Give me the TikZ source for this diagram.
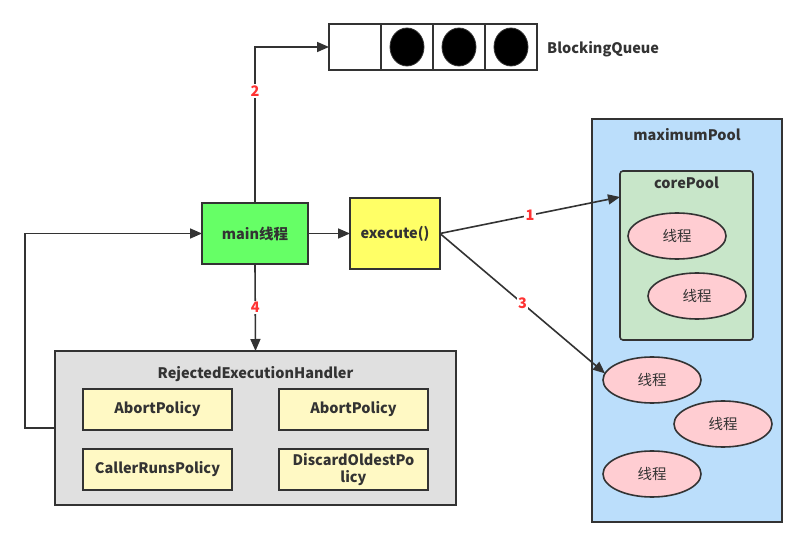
\documentclass[tikz,border=0pt]{standalone}
\usepackage{fontspec}
\setmainfont{Noto Sans CJK SC}
\usetikzlibrary{arrows.meta,shapes.geometric}
\definecolor{linegray}{HTML}{333333}
\definecolor{maingreen}{HTML}{66FF66}
\definecolor{execyellow}{HTML}{FFFF66}
\definecolor{rejgray}{HTML}{E0E0E0}
\definecolor{policyyellow}{HTML}{FFF9C4}
\definecolor{maxblue}{HTML}{BBDEFB}
\definecolor{coregreen}{HTML}{C8E6C9}
\definecolor{threadpink}{HTML}{FFCDD2}
\definecolor{stepred}{HTML}{FF3333}

\begin{document}
\begin{tikzpicture}[x=1pt,y=-1pt,
	box/.style={draw=linegray,line width=1.6pt,inner sep=0,outer sep=0,font=\bfseries\fontsize{14.5}{16}\selectfont,text=linegray},
	cell/.style={box,minimum width=52pt,minimum height=46pt},
	ball/.style={ellipse,fill=black,draw=black!80,line width=0.8pt,inner sep=0,minimum width=34pt,minimum height=38pt},
	policy/.style={box,fill=policyyellow,minimum width=149pt,minimum height=41pt,align=center},
	thread/.style={box,ellipse,fill=threadpink,minimum width=98pt,minimum height=46pt,font=\fontsize{14.5}{16}\selectfont},
	title/.style={font=\bfseries\fontsize{14.5}{16}\selectfont,text=linegray,inner sep=0},
	link/.style={draw=linegray,line width=1.6pt,-{Triangle[length=12pt,width=10pt]}},
	num/.style={fill=white,text=stepred,font=\bfseries\fontsize{14.5}{16}\selectfont,inner sep=1.5pt}]
	\useasboundingbox (0,0) rectangle (807,548);
	% queue
	\node[cell] (q1) at (355,47) {};
	\node[cell] (q2) at (407,47) {};
	\node[cell] (q3) at (459,47) {};
	\node[cell] (q4) at (511,47) {};
	\node[ball] (b2) at (q2) {};
	\node[ball] (b3) at (q3) {};
	\node[ball] (b4) at (q4) {};
	\node[title,anchor=west] (bq) at (547,49) {BlockingQueue};
	% main thread and execute
	\node[box,fill=maingreen,minimum width=106pt,minimum height=61pt] (main) at (255,233.5) {main线程};
	\node[box,fill=execyellow,minimum width=90pt,minimum height=71pt] (exec) at (395,233.5) {execute()};
	% rejection handler
	\node[box,fill=rejgray,minimum width=401pt,minimum height=154pt] (rej) at (255.5,428) {};
	\node[title] (rejt) at (255.5,374) {RejectedExecutionHandler};
	\node[policy] (p1) at (157.5,409.5) {AbortPolicy};
	\node[policy] (p2) at (353.5,409.5) {AbortPolicy};
	\node[policy] (p3) at (157.5,469.5) {CallerRunsPolicy};
	\node[policy,font=\bfseries\fontsize{14.5}{17}\selectfont] (p4) at (353.5,469.5) {DiscardOldestPo\\licy};
	% pools
	\node[box,fill=maxblue,minimum width=190pt,minimum height=403pt] (maxp) at (687,320.5) {};
	\node[title] (maxt) at (687,135) {maximumPool};
	\node[box,fill=coregreen,rounded corners=3pt,minimum width=133pt,minimum height=169pt] (core) at (686.5,255.5) {};
	\node[title] (coret) at (686.5,183) {corePool};
	\node[thread] (t1) at (677,236) {线程};
	\node[thread] (t2) at (697,296) {线程};
	\node[thread] (t3) at (652,380) {线程};
	\node[thread] (t4) at (723,424) {线程};
	\node[thread] (t5) at (652,474) {线程};
	\coordinate (corein) at (620,197);
	\coordinate (loop) at (25,428);
	% connectors
	\draw[link] (main.north) |- node[num,pos=0.36] {2} (q1.west);
	\draw[link] (main) -- (exec);
	\draw[link] (exec.east) -- node[num] {1} (corein);
	\draw[link] (exec.east) -- node[num] {3} (t3.172);
	\draw[link] (main.south) -- node[num] {4} (rej.north);
	\draw[link] (rej.west) -- (loop) |- (main.west);
\end{tikzpicture}
\end{document}
